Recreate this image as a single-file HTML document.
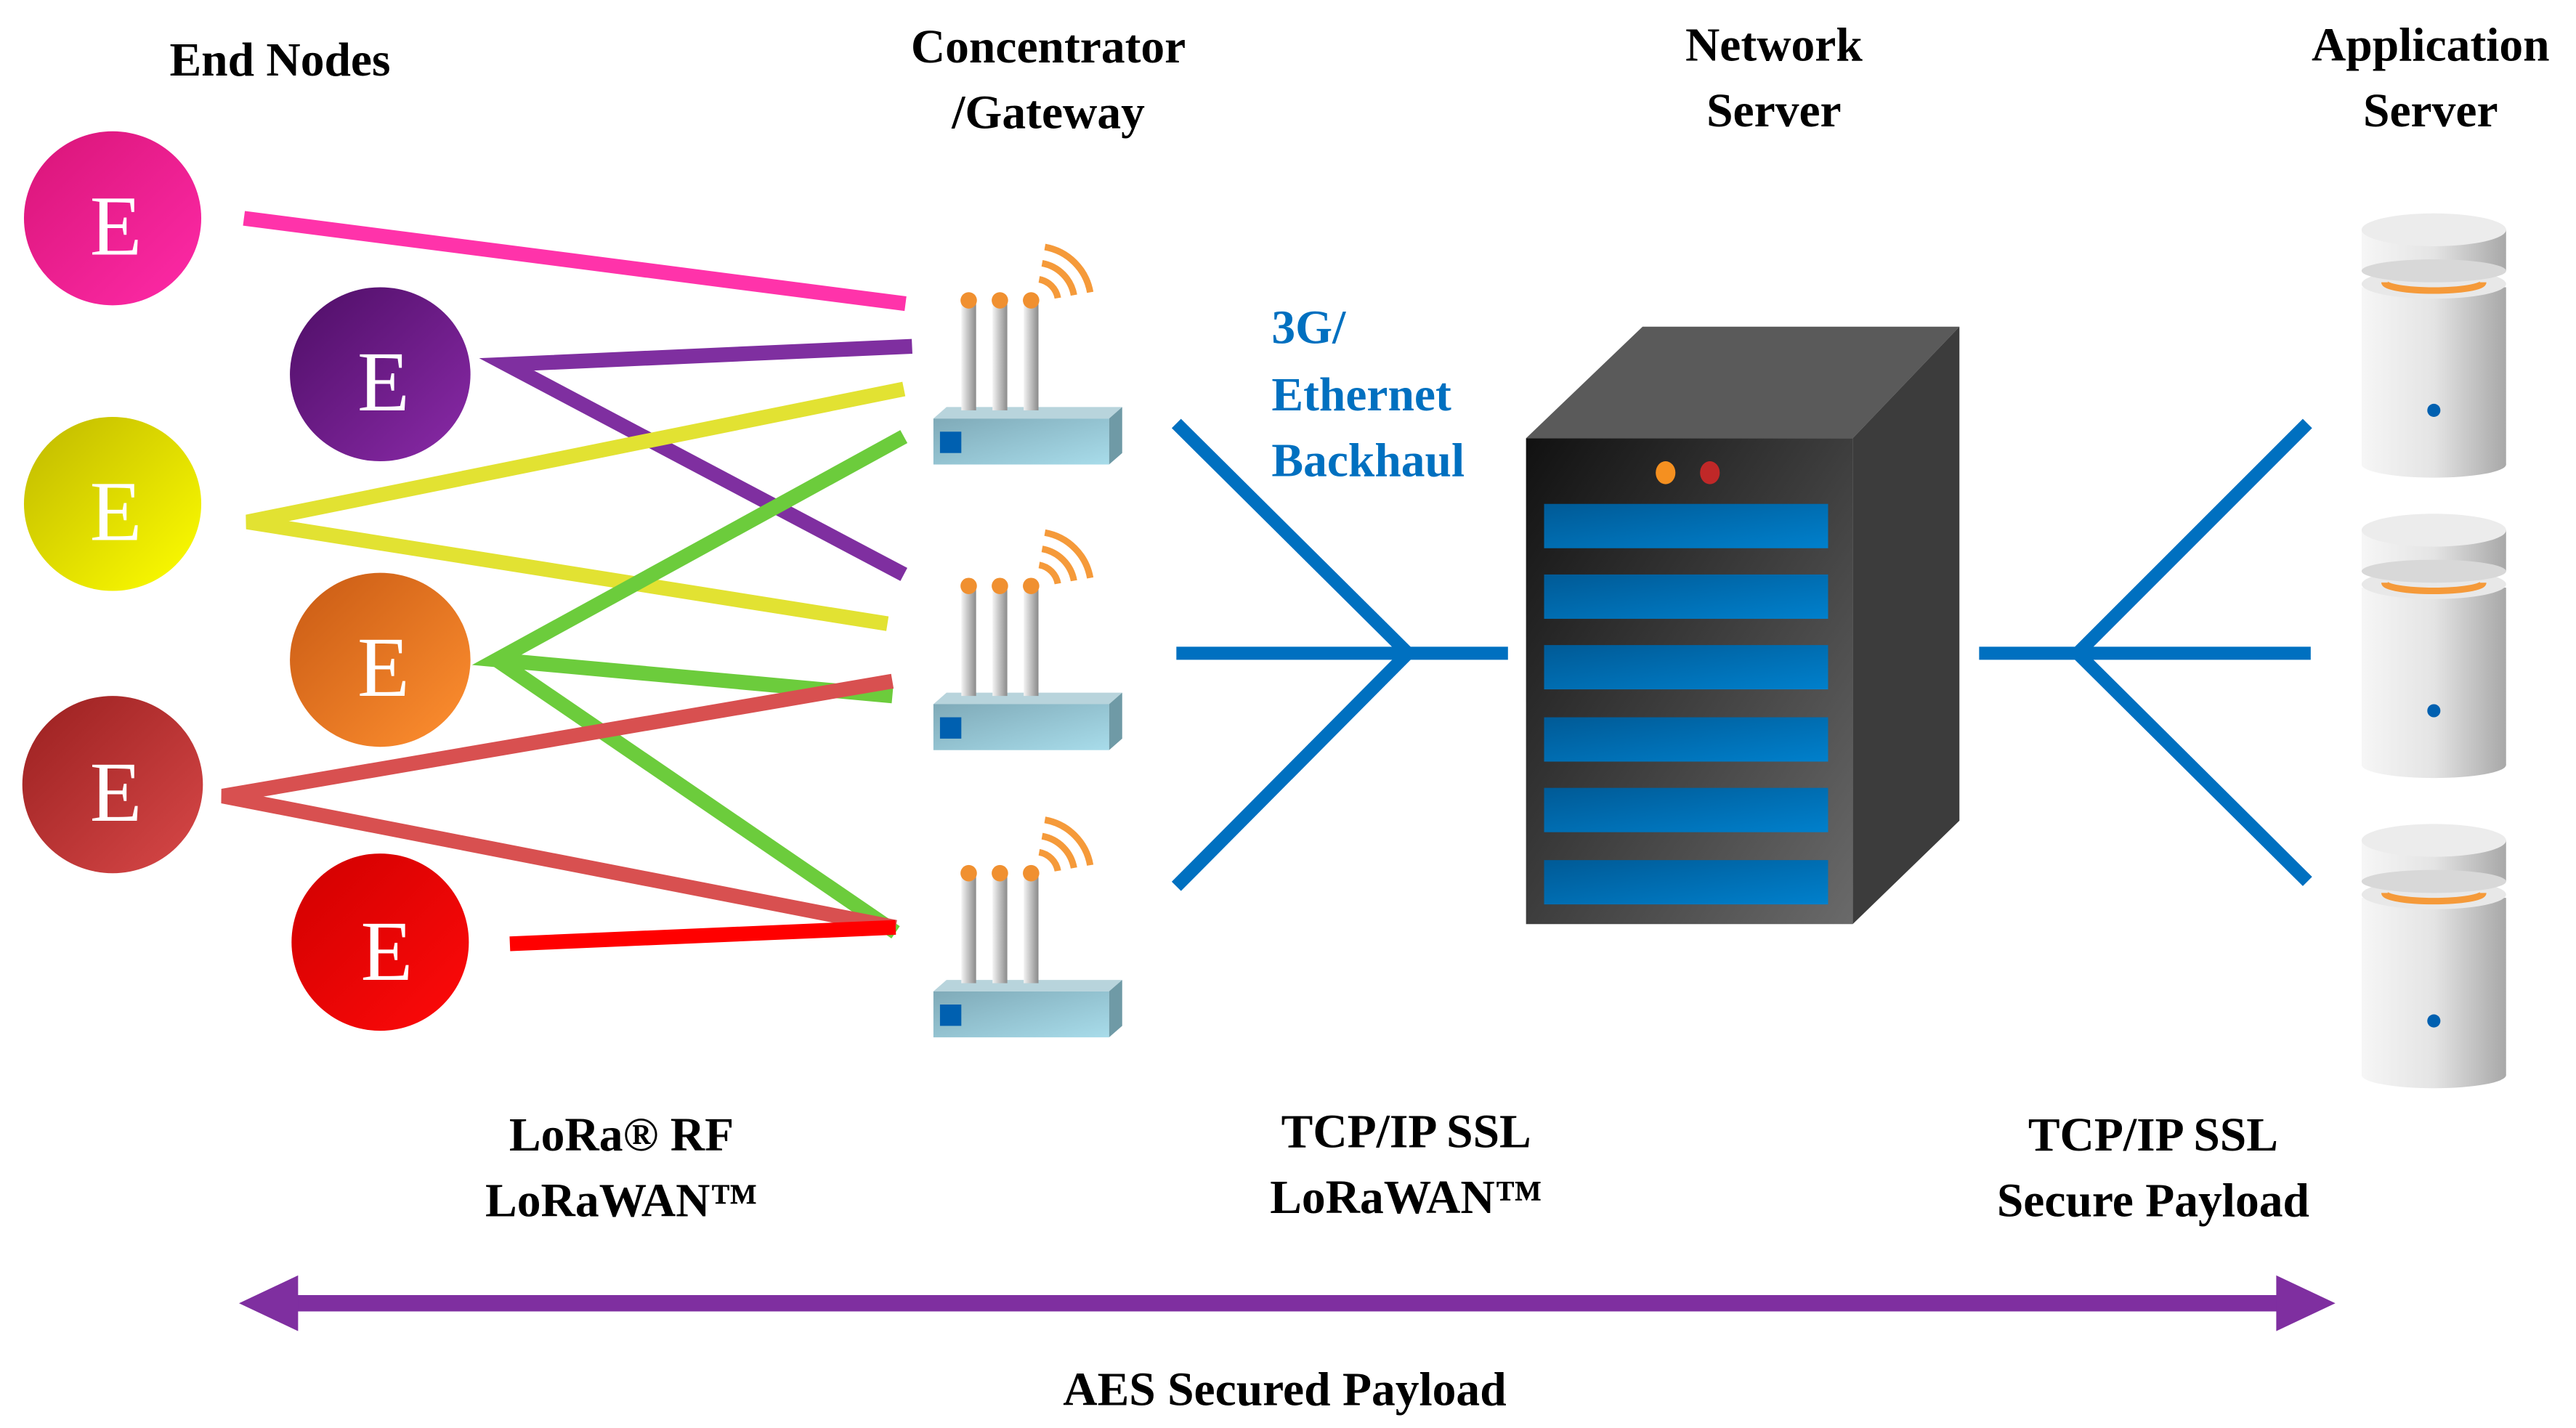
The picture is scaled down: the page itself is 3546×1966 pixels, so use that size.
<!DOCTYPE html>
<html><head><meta charset="utf-8"><style>
html,body{margin:0;padding:0;background:#fff;}
svg{display:block;}
text{font-family:"Liberation Serif",serif;font-weight:bold;}
text.e{font-weight:normal;}
</style></head><body>
<svg width="3546" height="1966" viewBox="0 0 1568 870" xmlns="http://www.w3.org/2000/svg">
<defs>
<linearGradient id="gPink" x1="0" y1="0" x2="1" y2="1"><stop offset="0" stop-color="#d81578"/><stop offset="1" stop-color="#ff2aa8"/></linearGradient>
<linearGradient id="gPur" x1="0" y1="0" x2="1" y2="1"><stop offset="0" stop-color="#4e0e66"/><stop offset="1" stop-color="#8a2aa8"/></linearGradient>
<linearGradient id="gYel" x1="0" y1="0" x2="1" y2="1"><stop offset="0" stop-color="#bfb800"/><stop offset="1" stop-color="#ffff00"/></linearGradient>
<linearGradient id="gOr" x1="0" y1="0" x2="1" y2="1"><stop offset="0" stop-color="#c85a14"/><stop offset="1" stop-color="#ff9030"/></linearGradient>
<linearGradient id="gDr" x1="0" y1="0" x2="1" y2="1"><stop offset="0" stop-color="#9a2020"/><stop offset="1" stop-color="#d84848"/></linearGradient>
<linearGradient id="gRed" x1="0" y1="0" x2="1" y2="1"><stop offset="0" stop-color="#d00000"/><stop offset="1" stop-color="#ff0a0a"/></linearGradient>
<linearGradient id="gAnt" x1="0" y1="0" x2="1" y2="0"><stop offset="0" stop-color="#f4f4f4"/><stop offset="1" stop-color="#8a8a8a"/></linearGradient>
<linearGradient id="gBase" x1="0" y1="0" x2="1" y2="1"><stop offset="0" stop-color="#7faab8"/><stop offset="1" stop-color="#a8dcea"/></linearGradient>
<linearGradient id="gFront" x1="0" y1="0" x2="1" y2="1"><stop offset="0" stop-color="#111"/><stop offset="1" stop-color="#6a6a6a"/></linearGradient>
<linearGradient id="gBar" x1="0" y1="0" x2="1" y2="1"><stop offset="0" stop-color="#005a96"/><stop offset="1" stop-color="#0080cc"/></linearGradient>
<linearGradient id="gCyl" x1="0" y1="0" x2="1" y2="0"><stop offset="0" stop-color="#f6f6f6"/><stop offset="0.5" stop-color="#e4e4e4"/><stop offset="1" stop-color="#a8a8a8"/></linearGradient>
<g id="gw">
  <polygon points="568,255 576,248 683,248 675,255" fill="#b8d4dc"/>
  <polygon points="675,255 683,248 683,276 675,283" fill="#6f9aa6"/>
  <rect x="568" y="255" width="107" height="28" fill="url(#gBase)"/>
  <rect x="572" y="263" width="13" height="13" fill="#0060b0"/>
  <rect x="585" y="183" width="9" height="67" fill="url(#gAnt)"/>
  <rect x="604" y="183" width="9" height="67" fill="url(#gAnt)"/>
  <rect x="623" y="183" width="9" height="67" fill="url(#gAnt)"/>
  <circle cx="589.5" cy="183" r="5" fill="#f09030"/>
  <circle cx="608.5" cy="183" r="5" fill="#f09030"/>
  <circle cx="627.5" cy="183" r="5" fill="#f09030"/>
  <g fill="none" stroke="#f59a3a" stroke-width="4">
    <path d="M632.4,170.2 A14,14 0 0 1 643.8,181.6"/>
    <path d="M634.2,160.4 A24,24 0 0 1 653.6,179.8"/>
    <path d="M635.9,150.5 A34,34 0 0 1 663.5,178.1"/>
  </g>
</g>
<g id="cyl">
  <rect x="1438" y="175" width="88" height="108" fill="url(#gCyl)"/>
  <ellipse cx="1482" cy="283" rx="44" ry="8" fill="url(#gCyl)"/>
  <ellipse cx="1482" cy="173" rx="44" ry="9" fill="#e8e8e8"/>
  <path d="M1452,172 A30,5 0 0 0 1512,172" fill="none" stroke="#f59a3a" stroke-width="4"/>
  <rect x="1438" y="140" width="88" height="25" fill="url(#gCyl)"/>
  <ellipse cx="1482" cy="165" rx="44" ry="7" fill="#d8d8d8"/>
  <ellipse cx="1482" cy="140" rx="44" ry="10" fill="#ececec"/>
  <circle cx="1482" cy="250" r="4" fill="#0060b0"/>
</g>
</defs>

<g font-size="29" text-anchor="middle" fill="#000">
<text x="170" y="46">End  Nodes</text>
<text x="638" y="38">Concentrator</text>
<text x="638" y="78">/Gateway</text>
<text x="1080" y="37">Network</text>
<text x="1080" y="77">Server</text>
<text x="1480" y="37">Application</text>
<text x="1480" y="77">Server</text>
</g>

<g stroke-width="9" fill="none" stroke-linejoin="miter">
<polyline points="148,133 551,185" stroke="#ff33aa"/>
<polyline points="555,211 308,222 550,350" stroke="#7f2fa0"/>
<polyline points="550,237 150,318 540,380" stroke="#e2e232"/>
<polyline points="550,266 302,402 543,424" stroke="#6ccc3c"/>
<polyline points="302,402 545,568" stroke="#6ccc3c"/>
<polyline points="543,415 135,485 545,565" stroke="#d85050"/>
<polyline points="310,575 545,565" stroke="#ff0000"/>
</g>

<g font-size="52" text-anchor="middle" fill="#fff">
<ellipse cx="68" cy="133" rx="54" ry="53" fill="url(#gPink)"/><text class="e" x="70" y="155">E</text>
<ellipse cx="231" cy="228" rx="55" ry="53" fill="url(#gPur)"/><text class="e" x="233" y="250">E</text>
<ellipse cx="68" cy="307" rx="54" ry="53" fill="url(#gYel)"/><text class="e" x="70" y="329">E</text>
<ellipse cx="231" cy="402" rx="55" ry="53" fill="url(#gOr)"/><text class="e" x="233" y="424">E</text>
<ellipse cx="68" cy="478" rx="55" ry="54" fill="url(#gDr)"/><text class="e" x="70" y="500">E</text>
<ellipse cx="231" cy="574" rx="54" ry="54" fill="url(#gRed)"/><text class="e" x="235" y="597">E</text>
</g>

<use href="#gw"/>
<use href="#gw" y="174"/>
<use href="#gw" y="349"/>

<g stroke="#0070c0" stroke-width="8" fill="none">
<polyline points="716,258 857,398 716,540"/>
<line x1="716" y1="398" x2="918" y2="398"/>
<polyline points="1405,258 1265,398 1405,537"/>
<line x1="1205" y1="398" x2="1407" y2="398"/>
</g>
<g font-size="29" fill="#0070c0">
<text x="774" y="209">3G/</text>
<text x="774" y="250">Ethernet</text>
<text x="774" y="290">Backhaul</text>
</g>

<polygon points="929,267 1000,199 1193,199 1128,267" fill="#5a5a5a"/>
<polygon points="1128,267 1193,199 1193,500 1128,563" fill="#3c3c3c"/>
<rect x="929" y="267" width="199" height="296" fill="url(#gFront)"/>
<g fill="url(#gBar)">
<rect x="940" y="307" width="173" height="27"/>
<rect x="940" y="350" width="173" height="27"/>
<rect x="940" y="393" width="173" height="27"/>
<rect x="940" y="437" width="173" height="27"/>
<rect x="940" y="480" width="173" height="27"/>
<rect x="940" y="524" width="173" height="27"/>
</g>
<ellipse cx="1014" cy="288" rx="6" ry="7" fill="#f59020"/>
<ellipse cx="1041" cy="288" rx="6" ry="7" fill="#c02828"/>

<use href="#cyl"/>
<use href="#cyl" y="183"/>
<use href="#cyl" y="372"/>

<g font-size="29" text-anchor="middle" fill="#000">
<text x="378" y="701">LoRa® RF</text>
<text x="378" y="741">LoRaWAN™</text>
<text x="856" y="699">TCP/IP SSL</text>
<text x="856" y="739">LoRaWAN™</text>
<text x="1311" y="701">TCP/IP SSL</text>
<text x="1311" y="741">Secure Payload</text>
<text x="782" y="856">AES Secured Payload</text>
</g>
<line x1="175" y1="794" x2="1392" y2="794" stroke="#7f2fa0" stroke-width="10"/>
<polygon points="145,794 181,777 181,811" fill="#7f2fa0"/>
<polygon points="1422,794 1386,777 1386,811" fill="#7f2fa0"/>
</svg>
</body></html>
